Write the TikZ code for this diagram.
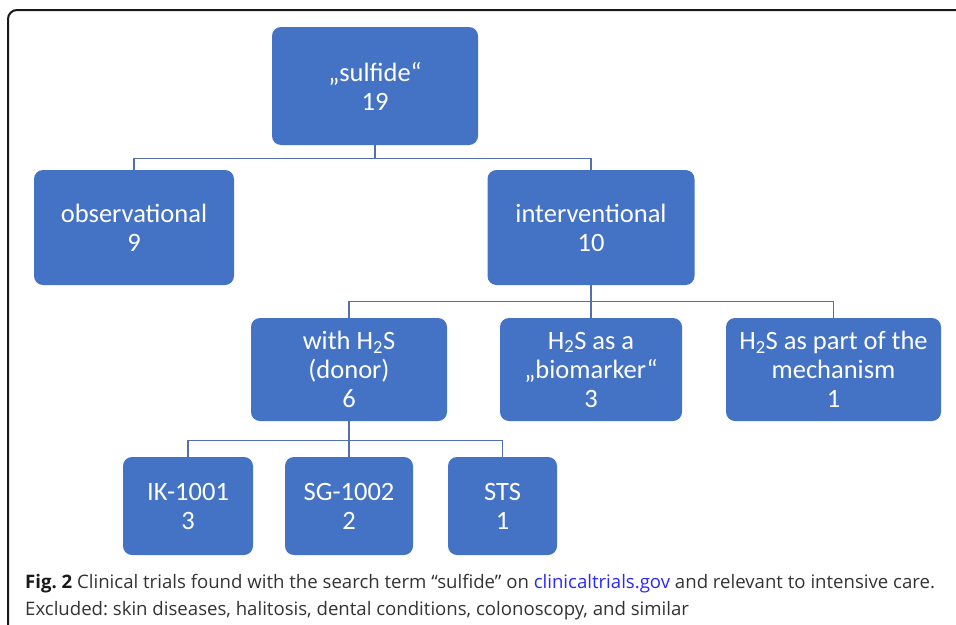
\documentclass[tikz,border=0pt]{standalone}
\usepackage{fontspec}
\setmainfont{Carlito}
\newfontfamily\capfont{Open Sans}
\frenchspacing
\definecolor{boxblue}{RGB}{68,114,196}
\definecolor{linkblue}{RGB}{84,112,170}
\definecolor{urlblue}{RGB}{40,40,255}
\tikzset{
  trial/.style={fill=boxblue, text=white, rounded corners=9pt, align=center, inner sep=0pt, font=\fontsize{26.5}{29}\selectfont},
  link/.style={draw=linkblue, line width=1.3pt},
  caption/.style={anchor=base west, inner sep=0pt, text=black!80, font=\capfont\fontsize{18.6}{27}\selectfont},
}

\begin{document}
\begin{tikzpicture}[x=1pt,y=-1pt]
  \clip (0,0) rectangle (956,624);
  % Frame round the figure
  \draw[line width=2pt, rounded corners=9pt, black!90] (8,10) rectangle (990,660);
  % TOP LEVEL
  \node[trial, minimum width=206pt, minimum height=118pt] (sulfide) at (375,86) {„sulfide“\\19};
  % SECOND LEVEL
  \node[trial, minimum width=200pt, minimum height=115pt] (observ) at (134,227.5) {observational\\9};
  \node[trial, minimum width=207pt, minimum height=115pt] (interv) at (591,227.5) {interventional\\10};
  % THIRD LEVEL
  \node[trial, minimum width=196pt, minimum height=103pt] (donor) at (349,369.5) {with H\textsubscript{2}S\\(donor)\\6};
  \node[trial, minimum width=182pt, minimum height=103pt] (marker) at (591,369.5) {H\textsubscript{2}S as a\\„biomarker“\\3};
  \node[trial, minimum width=215pt, minimum height=103pt] (mechan) at (833.5,369.5) {H\textsubscript{2}S as part of the\\mechanism\\1};
  % FOURTH LEVEL
  \node[trial, minimum width=130pt, minimum height=98pt] (ik) at (188,506) {IK-1001\\3};
  \node[trial, minimum width=128pt, minimum height=98pt] (sg) at (349,506) {SG-1002\\2};
  \node[trial, minimum width=109pt, minimum height=98pt] (sts) at (502.5,506) {STS\\1};
  % Connectors
  \draw[link] (sulfide.south) -- ++(0,13) coordinate (fork1) -| (observ.north);
  \draw[link] (fork1) -| (interv.north);
  \draw[link] (interv.south) -- ++(0,16) coordinate (fork2) -| (donor.north);
  \draw[link] (fork2) -- (marker.north);
  \draw[link] (fork2) -| (mechan.north);
  \draw[link] (donor.south) -- ++(0,19) coordinate (fork3) -| (ik.north);
  \draw[link] (fork3) -- (sg.north);
  \draw[link] (fork3) -| (sts.north);
  % Caption
  \node[caption] (cap1) at (25,588) {\textbf{\color{black!90}Fig. 2} Clinical trials found with the search term “sulfide” on \textcolor{urlblue}{clinicaltrials.gov} and relevant to intensive care.};
  \node[caption] (cap2) at (25,615) {Excluded: skin diseases, halitosis, dental conditions, colonoscopy, and similar};
\end{tikzpicture}
\end{document}
